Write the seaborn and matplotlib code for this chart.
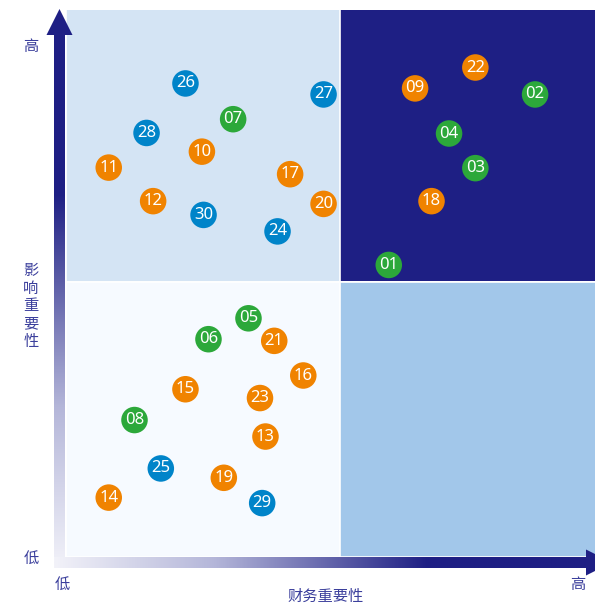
import matplotlib.pyplot as plt
import numpy as np
import pandas as pd
import seaborn as sns
from matplotlib.colors import LinearSegmentedColormap
from matplotlib.patches import Rectangle, Polygon

# Data: topic id, financial materiality (x), impact materiality (y), group
ids = ["26", "27", "07", "28", "10", "11", "17", "12", "20", "30", "24",
       "22", "09", "02", "04", "03", "18", "01",
       "05", "06", "21", "16", "15", "23", "08", "13", "25", "19", "14", "29"]
fin_score = [2.18, 4.70, 3.05, 1.47, 2.48, 0.78, 4.09, 1.59, 4.70, 2.51, 3.86,
             7.47, 6.37, 8.56, 6.99, 7.47, 6.67, 5.89,
             3.33, 2.60, 3.80, 4.33, 2.18, 3.54, 1.25, 3.64, 1.73, 2.88, 0.78, 3.58]
impact_score = [8.61, 8.41, 7.96, 7.71, 7.37, 7.08, 6.96, 6.47, 6.42, 6.22, 5.92,
                8.90, 8.52, 8.41, 7.70, 7.07, 6.47, 5.31,
                4.34, 3.96, 3.93, 3.30, 3.05, 2.89, 2.49, 2.19, 1.61, 1.44, 1.08, 0.98]
group = ["blue", "blue", "green", "blue", "orange", "orange", "orange", "orange", "orange", "blue", "blue",
         "orange", "orange", "green", "green", "green", "orange", "green",
         "green", "green", "orange", "orange", "orange", "orange", "green", "orange", "blue", "orange", "orange", "blue"]

palette = {"orange": "#f08300", "green": "#2ca83a", "blue": "#0084c9"}
navy = "#1e1f84"
label_color = "#3b3f9c"

df = pd.DataFrame({"id": ids, "x": fin_score, "y": impact_score, "group": group})

sns.set_style("white")
plt.rcParams["font.family"] = ["Noto Sans", "Noto Sans CJK SC", "DejaVu Sans"]

W, H = 595, 604
fig = plt.figure(figsize=(W / 100, H / 100), dpi=100)

# main plot area
ax = fig.add_axes([66 / W, 47 / H, 529 / W, 547 / H])
ax.set_xlim(0, 529 / 54.8)
ax.set_ylim(0, 547 / 55)
mid = 5
quads = [((0, mid), "#d4e4f4"), ((mid, mid), navy), ((0, 0), "#f6faff"), ((mid, 0), "#a2c7ea")]
for (qx, qy), c in quads:
    ax.add_patch(Rectangle((qx, qy), 10, 10 if qy == mid else mid, facecolor=c,
                           edgecolor="white", linewidth=1.2, zorder=0))
sns.scatterplot(data=df, x="x", y="y", hue="group", palette=palette, s=365,
                edgecolor="none", legend=False, ax=ax, zorder=3)
for _, r in df.iterrows():
    ax.text(r["x"], r["y"], r["id"], ha="center", va="center", color="white",
            fontsize=12, zorder=4)
ax.set_xlabel("")
ax.set_ylabel("")
ax.set_xticks([])
ax.set_yticks([])
for s in ax.spines.values():
    s.set_visible(False)

# overlay for arrows and labels (pixel space)
ov = fig.add_axes([0, 0, 1, 1], zorder=5)
ov.set_xlim(0, W)
ov.set_ylim(H, 0)
ov.axis("off")
ov.patch.set_alpha(0)

cmap = LinearSegmentedColormap.from_list("g", [(0, "#f2f2f9"), (0.3, "#b4b6d9"),
                                               (0.7, navy), (1, navy)])
grad = np.linspace(0, 1, 256)
# y axis shaft (dark at top)
ov.imshow(grad[::-1].reshape(-1, 1), cmap=cmap, aspect="auto",
          extent=(54, 65, 568, 33), zorder=1)
ov.add_patch(Polygon([(46.5, 35), (72.5, 35), (59.5, 9)], closed=True,
                     facecolor=navy, edgecolor="none", zorder=2))
# x axis shaft (dark at right)
ov.imshow(grad.reshape(1, -1), cmap=cmap, aspect="auto",
          extent=(54, 588, 568, 557), zorder=1)
ov.add_patch(Polygon([(586, 549.5), (586, 575.5), (612, 562.5)], closed=True,
                     facecolor=navy, edgecolor="none", zorder=2))
ov.set_xlim(0, W)
ov.set_ylim(H, 0)

cjk = ["Noto Sans CJK SC", "DejaVu Sans"]
ov.text(31, 46, "高", ha="center", va="center", color=label_color, fontsize=11, family=cjk)
ov.text(31, 558, "低", ha="center", va="center", color=label_color, fontsize=11, family=cjk)
ov.text(31, 306, "\n".join("影响重要性"), ha="center", va="center", color=label_color,
        fontsize=11, family=cjk, linespacing=1.05)
ov.text(62, 584, "低", ha="center", va="center", color=label_color, fontsize=11, family=cjk)
ov.text(578, 584, "高", ha="center", va="center", color=label_color, fontsize=11, family=cjk)
ov.text(326, 596, "财务重要性", ha="center", va="center", color=label_color, fontsize=11, family=cjk)

fig.savefig("out.png", dpi=100)
